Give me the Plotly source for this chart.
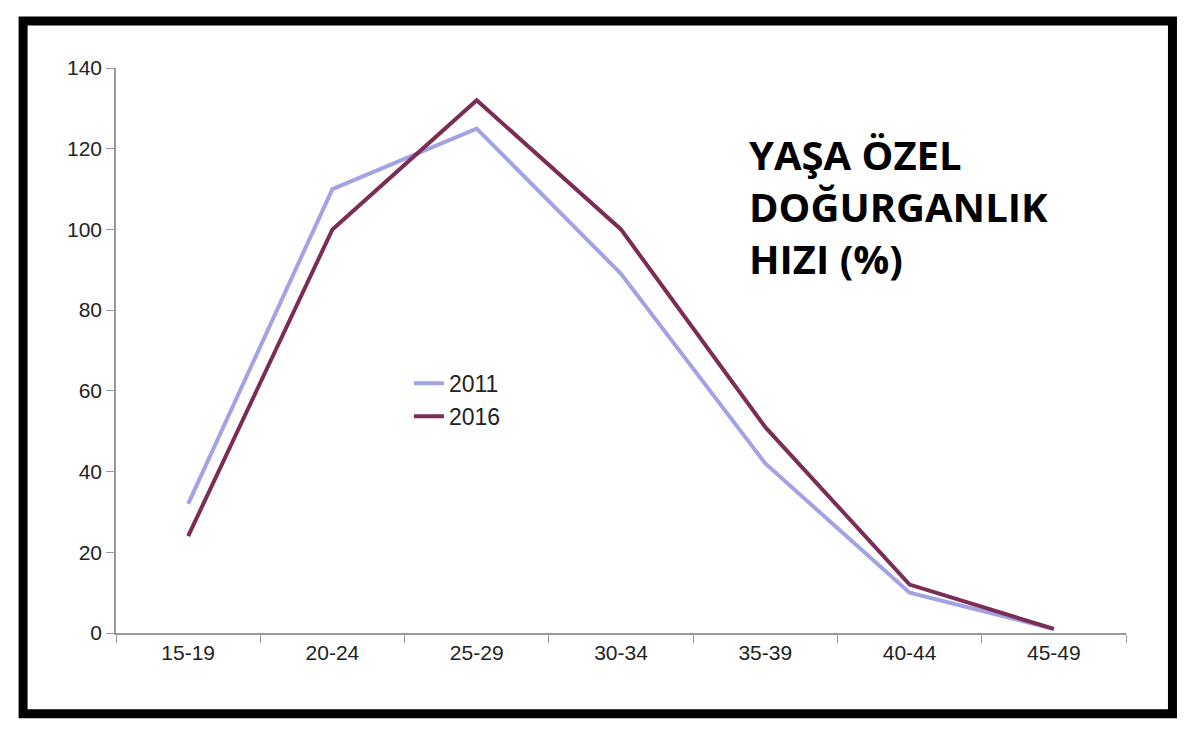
import plotly.graph_objects as go

ages = ['15-19', '20-24', '25-29', '30-34', '35-39', '40-44', '45-49']
rate_2011 = [32, 110, 125, 89, 42, 10, 1]
rate_2016 = [24, 100, 132, 100, 51, 12, 1]

fig = go.Figure()
fig.add_trace(go.Scatter(x=ages, y=rate_2011, mode='lines', name='2011',
                         line={'color': '#a3a3e3', 'width': 4}))
fig.add_trace(go.Scatter(x=ages, y=rate_2016, mode='lines', name='2016',
                         line={'color': '#7b2d55', 'width': 4}))

fig.update_layout(
    width=1200, height=730,
    margin={'l': 108, 'r': 82, 't': 60, 'b': 105},
    paper_bgcolor='white', plot_bgcolor='white',
    font={'family': 'Liberation Sans, Arial', 'size': 21, 'color': '#222'},
    showlegend=True,
    legend={'x': 0.29, 'y': 0.48, 'xanchor': 'left', 'yanchor': 'top',
            'bgcolor': 'rgba(0,0,0,0)', 'font': {'size': 23}, 'tracegroupgap': 30},
    xaxis={'showline': True, 'linecolor': '#999', 'linewidth': 1.5,
           'ticks': 'outside', 'tickson': 'boundaries', 'ticklen': 8,
           'tickcolor': '#999', 'showgrid': False, 'range': [-0.5, 6.5]},
    yaxis={'range': [0, 140], 'dtick': 20, 'showline': True, 'linecolor': '#999',
           'linewidth': 1.5, 'ticks': 'outside', 'ticklen': 8, 'tickcolor': '#999',
           'showgrid': False, 'zeroline': False},
    shapes=[{'type': 'rect', 'xref': 'paper', 'yref': 'paper',
             'x0': -0.092, 'x1': 1.046, 'y0': -0.143, 'y1': 1.083,
             'line': {'color': 'black', 'width': 9}}],
    annotations=[{'text': '<b>YAŞA ÖZEL<br>DOĞURGANLIK<br>HIZI (%)</b>',
                  'xref': 'paper', 'yref': 'paper', 'x': 0.625, 'y': 0.9,
                  'xanchor': 'left', 'yanchor': 'top', 'align': 'left',
                  'showarrow': False,
                  'font': {'family': 'Open Sans', 'size': 40, 'color': 'black'}}],
)

fig.write_html('out.html')
